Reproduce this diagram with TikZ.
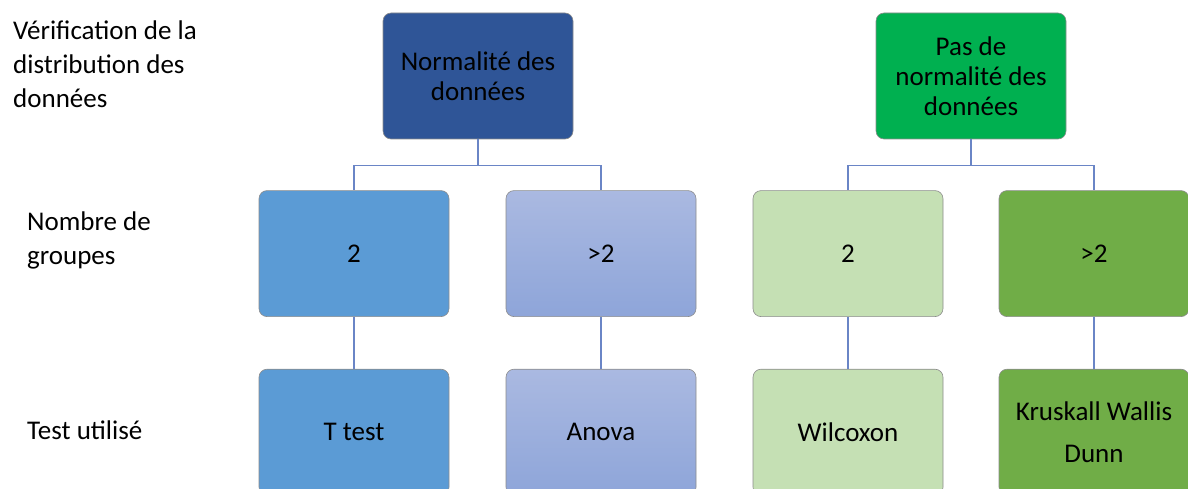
\documentclass[tikz,border=0pt]{standalone}
\usepackage{fontspec}
\setmainfont{Carlito}
\usepackage{tikz}
\usetikzlibrary{arrows}
\usetikzlibrary{positioning}

\definecolor{darkblue}{HTML}{2F5597}
\definecolor{midblue}{HTML}{5B9BD5}
\definecolor{lavtop}{HTML}{AAB9E1}
\definecolor{lavbot}{HTML}{8EA5D9}
\definecolor{brightgreen}{HTML}{00B050}
\definecolor{palegreen}{HTML}{C5E0B4}
\definecolor{leafgreen}{HTML}{70AD47}
\definecolor{linkblue}{HTML}{6A85C6}

\tikzset{
  box/.style={rounded corners=8pt, minimum width=190pt, minimum height=126pt,
    align=center, draw=black!45, line width=0.6pt, inner sep=2pt,
    font=\fontsize{27}{30}\selectfont},
  rowlabel/.style={anchor=north west, align=left, inner sep=0pt,
    font=\fontsize{27}{34}\selectfont},
  link/.style={draw=linkblue, line width=1.2pt}
}

\begin{document}
\begin{tikzpicture}[x=1pt,y=1pt]
\useasboundingbox (0,0) rectangle (1188,488);
\clip (0,0) rectangle (1188,488);
\node at (478,412) (norm) [box, fill=darkblue] {Normalité des\\données};
\node at (971,412) (nonnorm) [box, fill=brightgreen] {Pas de\\normalité des\\données};
\node (ntwo) [box, fill=midblue, below=51pt of norm, xshift=-124pt] {2};
\node (nmore) [box, top color=lavtop, bottom color=lavbot, below=51pt of norm, xshift=123pt] {>2};
\node (gtwo) [box, fill=palegreen, below=51pt of nonnorm, xshift=-123pt] {2};
\node (gmore) [box, fill=leafgreen, below=51pt of nonnorm, xshift=123pt] {>2};
\node (ttest) [box, fill=midblue, below=52pt of ntwo] {T test};
\node (anova) [box, top color=lavtop, bottom color=lavbot, below=52pt of nmore] {Anova};
\node (wilcox) [box, fill=palegreen, below=52pt of gtwo] {Wilcoxon};
\node (kruskal) [box, fill=leafgreen, below=52pt of gmore] {Kruskall Wallis\\[12pt]Dunn};
\node at (13,467) (lverif) [rowlabel] {Vérification de la\\distribution des\\données};
\node at (27,276) (lgroups) [rowlabel] {Nombre de\\groupes};
\node at (27,67) (ltest) [rowlabel] {Test utilisé};
\path[link] (norm.south) -- ++(0,-26) -| (ntwo.north);
\path[link] (norm.south) -- ++(0,-26) -| (nmore.north);
\path[link] (nonnorm.south) -- ++(0,-26) -| (gtwo.north);
\path[link] (nonnorm.south) -- ++(0,-26) -| (gmore.north);
\path[link] (ntwo) -- (ttest);
\path[link] (nmore) -- (anova);
\path[link] (gtwo) -- (wilcox);
\path[link] (gmore) -- (kruskal);
\end{tikzpicture}
\end{document}
